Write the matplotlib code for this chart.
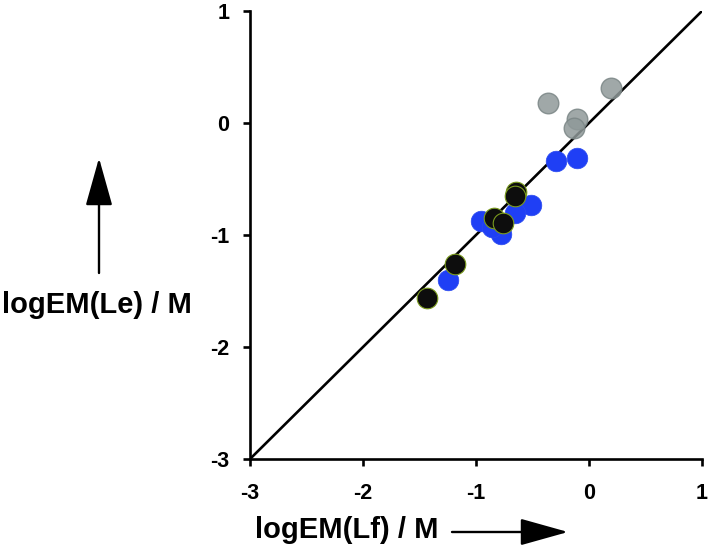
import matplotlib
matplotlib.use("Agg")
import matplotlib.pyplot as plt

plt.rcParams['font.family'] = ['Liberation Sans', 'DejaVu Sans']
plt.rcParams['font.weight'] = 'bold'

# data
gray_x = [-0.36, 0.195, -0.103, -0.13]
gray_y = [0.176, 0.31, 0.033, -0.047]

blue_x = [-0.295, -0.109, -0.516, -0.655, -0.96, -0.78, -0.86, -1.245]
blue_y = [-0.337, -0.315, -0.732, -0.807, -0.872, -0.994, -0.926, -1.40]

black_x = [-0.646, -0.655, -0.841, -0.764, -1.186, -1.436]
black_y = [-0.613, -0.649, -0.851, -0.89, -1.262, -1.566]

ticks = [-3, -2, -1, 0, 1]
diag = [-3, 1]

fig = plt.figure(figsize=(7.12, 5.5), dpi=100)
ax = fig.add_axes([250 / 712, 91 / 550, 452 / 712, 448 / 550])

ax.plot(diag, diag, color='black', lw=1.9, zorder=2)
ax.scatter(gray_x, gray_y, s=220, c='#8f9999', edgecolors='#7b8686', linewidths=1, alpha=0.85, zorder=3)
ax.scatter(blue_x, blue_y, s=220, c='#1f3ff5', edgecolors='#2a4af0', linewidths=0.5, zorder=4)
ax.scatter(black_x, black_y, s=220, c='#0d0d0d', edgecolors='#7a9a1e', linewidths=0.8, zorder=5)

ax.set_xlim(-3, 1)
ax.set_ylim(-3, 1)
ax.set_xticks(ticks)
ax.set_yticks(ticks)
ax.set_xticklabels([str(t) for t in ticks], fontsize=15.5, fontweight='bold')
ax.set_yticklabels([str(t) for t in ticks], fontsize=15.5, fontweight='bold')
for s in ['top', 'right']:
    ax.spines[s].set_visible(False)
for s in ['left', 'bottom']:
    ax.spines[s].set_linewidth(1.9)
ax.tick_params(direction='out', length=5, width=1.9)
ax.tick_params(axis='x', pad=12)
ax.tick_params(axis='y', pad=10)
ax.patch.set_alpha(0)

# axis titles + arrows (as in the original figure)
fig.text(255, 20, 'logEM(Lf) / M', transform=None, fontsize=21, fontweight='bold',
         ha='left', va='center')
fig.text(97, 245, 'logEM(Le) / M', transform=None, fontsize=21, fontweight='bold',
         ha='center', va='center')

arrow = dict(arrowstyle='-|>,head_length=1.5,head_width=0.42', color='black',
             lw=1.7, mutation_scale=20, shrinkA=0, shrinkB=0)
ax.annotate('', xy=(568, 18), xytext=(452, 18), xycoords='figure pixels',
            textcoords='figure pixels', arrowprops=arrow)
ax.annotate('', xy=(99, 392), xytext=(99, 277), xycoords='figure pixels',
            textcoords='figure pixels', arrowprops=arrow)

plt.savefig('out.png', dpi=100)
